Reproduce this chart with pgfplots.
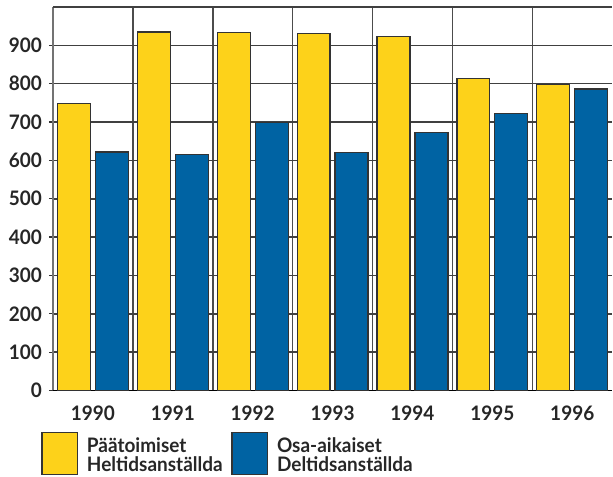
\documentclass[border=0pt]{standalone}
\usepackage{pgfplots}
\pgfplotsset{compat=1.18}
\usepackage{fontspec}
\setmainfont{Lato}[FakeStretch=0.95]
\definecolor{yel}{HTML}{FDD21A}
\definecolor{blu}{HTML}{0063A3}
\begin{document}
\begin{tikzpicture}
\begin{axis}[
  at={(0,0)}, anchor=south west,
  scale only axis, width=280pt, height=192pt,
  xmin=-0.5, xmax=6.5, ymin=0, ymax=1000,
  xtick={0,...,6},
  xticklabels={1990,1991,1992,1993,1994,1995,1996},
  minor xtick={0.5,1.5,...,5.5},
  xminorgrids,
  ytick={0,100,...,900},
  yticklabels={0,100,200,300,400,500,600,700,800,900},
  ymajorgrids,
  extra y ticks={1000}, extra y tick labels={},
  extra y tick style={grid=major, major tick length=0pt},
  major x tick style={draw=none},
  minor x tick style={draw=none},
  ytick style={black!80, line width=0.6pt},
  major tick length=2pt,
  tick align=outside,
  grid style={black!75, line width=0.8pt},
  minor grid style={black!70, line width=0.8pt},
  axis x line*=bottom,
  axis y line*=left,
  x axis line style={-, black, line width=0.8pt},
  y axis line style={-, black!55, line width=1pt},
  tick label style={font=\bfseries\fontsize{10}{11}\selectfont, text=black!85},
  yticklabel style={xshift=0pt},
  xticklabel style={yshift=-2pt},
  ybar, bar width=16.5pt,
  clip=false,
]
\addplot[fill=yel, draw=black!80, line width=0.6pt, bar shift=-9.5pt] coordinates {
 (0,748) (1,935) (2,934) (3,931) (4,923) (5,814) (6,797)};
\addplot[fill=blu, draw=black!80, line width=0.6pt, bar shift=9.5pt] coordinates {
 (0,622) (1,616) (2,699) (3,621) (4,672) (5,722) (6,786)};
\end{axis}
% legend
\draw[fill=yel, draw=black!80, line width=0.6pt] (-5.5pt,-21.15pt) rectangle (12.35pt,-42pt);
\draw[fill=blu, draw=black!80, line width=0.6pt] (89.65pt,-21.15pt) rectangle (107.35pt,-42pt);
\node[anchor=base west, inner sep=0pt, font=\bfseries\fontsize{10}{11}\selectfont, text=black!85] at (16.85pt,-30.85pt) {Päätoimiset};
\node[anchor=base west, inner sep=0pt, font=\bfseries\fontsize{10}{11}\selectfont, text=black!85] at (16.85pt,-40.35pt) {Heltidsanställda};
\node[anchor=base west, inner sep=0pt, font=\bfseries\fontsize{10}{11}\selectfont, text=black!85] at (112pt,-30.85pt) {Osa-aikaiset};
\node[anchor=base west, inner sep=0pt, font=\bfseries\fontsize{10}{11}\selectfont, text=black!85] at (112pt,-40.35pt) {Deltidsanställda};
\useasboundingbox (-26.5pt,-43pt) rectangle (280pt,195.5pt);
\end{tikzpicture}
\end{document}
